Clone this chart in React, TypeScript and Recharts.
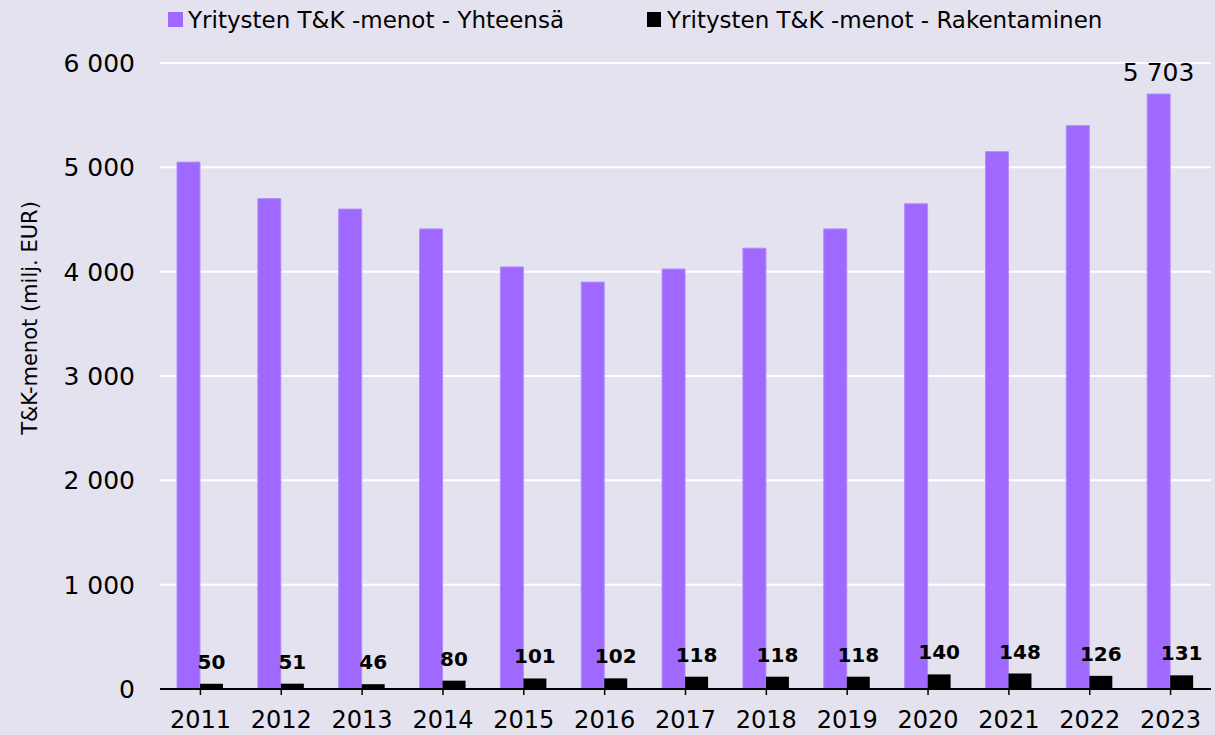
import React from 'react';
import { BarChart, Bar, XAxis, YAxis, CartesianGrid, Legend, LabelList } from 'recharts';

const years = ['2011','2012','2013','2014','2015','2016','2017','2018','2019','2020','2021','2022','2023'];
const yhteensa = [5050, 4700, 4600, 4410, 4045, 3900, 4025, 4225, 4410, 4650, 5150, 5400, 5703];
const rakentaminen = [50, 51, 46, 80, 101, 102, 118, 118, 118, 140, 148, 126, 131];
const yTicks = [0, 1000, 2000, 3000, 4000, 5000, 6000];
const seriesNames = ['Yritysten T&K -menot - Yhteensä', 'Yritysten T&K -menot - Rakentaminen'];
const yAxisTitle = 'T&K-menot (milj. EUR)';

const data = years.map((y, i) => ({ year: y, total: yhteensa[i], build: rakentaminen[i] }));

const PURPLE = '#9f69ff';
const BG = '#e4e2ee';
const FONT = '"DejaVu Sans", sans-serif';

const fmt = (v: number) => String(v).replace(/\B(?=(\d{3})+(?!\d))/g, ' ');

const renderLegend = () => (
  <div style={{ position: 'relative', width: 1215, height: 40, fontFamily: FONT, fontSize: 23, color: '#000' }}>
    <div style={{ position: 'absolute', left: 168, top: 12, width: 15, height: 15, background: PURPLE }} />
    <div style={{ position: 'absolute', left: 188, top: 5, lineHeight: '30px', whiteSpace: 'nowrap' }}>{seriesNames[0]}</div>
    <div style={{ position: 'absolute', left: 647, top: 12, width: 14, height: 15, background: '#000' }} />
    <div style={{ position: 'absolute', left: 667, top: 5, lineHeight: '30px', whiteSpace: 'nowrap' }}>{seriesNames[1]}</div>
  </div>
);

const lastLabel = (props: any) => {
  const { x, y, width, value, index } = props;
  if (index !== yhteensa.length - 1) return null;
  return (
    <text x={Number(x) + Number(width) / 2} y={Number(y) - 13} textAnchor="middle" fontFamily={FONT} fontSize={25} fill="#000">
      {fmt(Number(value))}
    </text>
  );
};

export default function App() {
  return (
    <div style={{ position: 'absolute', left: 0, top: 0, width: 1215, height: 735, background: BG }}>
      <BarChart
        width={1215}
        height={735}
        data={data}
        margin={{ top: 23, right: 4, bottom: 0, left: 0 }}
        barGap={0}
        barCategoryGap="21.5%"
      >
        <CartesianGrid vertical={false} stroke="#ffffff" strokeWidth={2} />
        <Legend verticalAlign="top" align="left" wrapperStyle={{ top: 0, left: 0, width: 1215, height: 40 }} content={renderLegend} />
        <XAxis
          dataKey="year"
          axisLine={{ stroke: '#000', strokeWidth: 2 }}
          tickLine={{ stroke: '#000', strokeWidth: 1.5 }}
          tickSize={6}
          tickMargin={16}
          height={46}
          tick={{ fill: '#000', fontSize: 24, fontFamily: FONT }}
          interval={0}
        />
        <YAxis
          width={160}
          domain={[0, 6000]}
          ticks={yTicks}
          axisLine={false}
          tickLine={false}
          tickSize={6}
          tickMargin={19}
          tickFormatter={fmt}
          tick={{ fill: '#000', fontSize: 25, fontFamily: FONT }}
          label={{ value: yAxisTitle, angle: -90, position: 'center', dx: -50, dy: -58, fill: '#000', fontSize: 21, fontFamily: FONT }}
        />
        <Bar dataKey="total" name={seriesNames[0]} fill={PURPLE} stroke="#b18cff" strokeWidth={1} barSize={23} isAnimationActive={false} label={lastLabel} />
        <Bar dataKey="build" name={seriesNames[1]} fill="#000" barSize={23} isAnimationActive={false}>
          <LabelList dataKey="build" position="top" offset={15} fill="#000" fontSize={20} fontWeight="bold" fontFamily={FONT} />
        </Bar>
      </BarChart>
    </div>
  );
}
